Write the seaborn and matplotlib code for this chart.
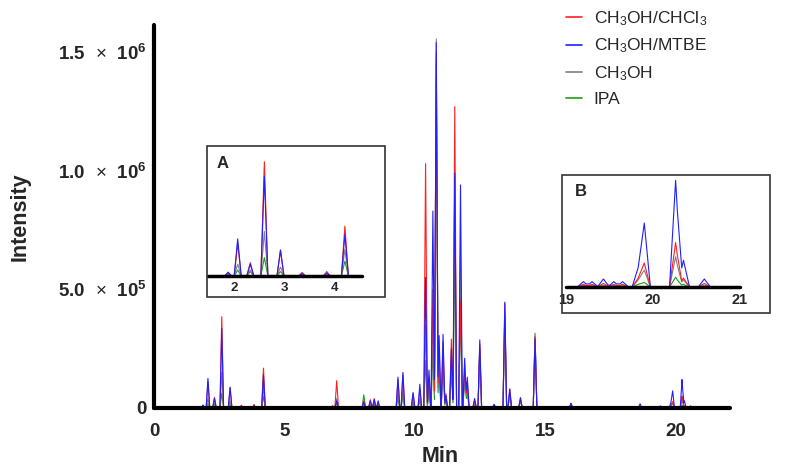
import numpy as np
import pandas as pd
import matplotlib
matplotlib.use("Agg")
import matplotlib.pyplot as plt
import seaborn as sns
from matplotlib.patches import Rectangle
from matplotlib.lines import Line2D

# ---------------- data ----------------
# retention times of the peaks (min)
rt = [1.88, 2.07, 2.32, 2.60, 2.92, 3.35, 3.84, 4.20,
      6.85, 7.01, 8.05, 8.30, 8.45, 8.60,
      9.36, 9.55, 9.94, 10.20,
      10.42, 10.55, 10.70, 10.83, 10.94, 11.09, 11.20, 11.41, 11.54, 11.76, 11.92, 12.02,
      12.30, 12.50, 13.05, 13.46, 13.65, 14.06, 14.62, 16.00, 18.65,
      19.20, 19.30, 19.43, 19.55, 19.65,
      19.83, 19.90, 20.26, 20.35, 20.59]

# peak heights (x 1000 counts) for each extraction solvent
h_chcl3 = [10, 110, 45, 385, 85, 12, 15, 168,
           10, 115, 30, 35, 40, 20,
           120, 140, 60, 80,
           1030, 120, 500, 1500, 250, 280, 60, 290, 1270, 450, 180, 110,
           30, 270, 15, 440, 80, 40, 300, 20, 8,
           3, 3, 4, 3, 3,
           10, 27, 50, 10, 4]
h_mtbe = [13, 125, 40, 335, 88, 8, 10, 140,
          8, 30, 25, 30, 35, 30,
          130, 150, 65, 100,
          550, 160, 830, 1540, 305, 310, 50, 250, 990, 940, 210, 130,
          40, 287, 15, 446, 80, 44, 290, 20, 18,
          6, 6, 9, 6, 6,
          22, 72, 120, 30, 9]
h_meoh = [6, 40, 20, 150, 30, 6, 5, 90,
          5, 40, 20, 15, 20, 10,
          60, 70, 30, 40,
          350, 80, 400, 1555, 200, 220, 40, 200, 980, 650, 150, 90,
          20, 250, 8, 400, 60, 30, 300, 10, 5,
          2, 2, 2, 2, 2,
          8, 19, 34, 8, 2]
h_ipa = [4, 20, 15, 62, 15, 4, 4, 50,
         3, 20, 55, 15, 15, 10,
         40, 50, 20, 30,
         200, 60, 250, 1450, 150, 180, 30, 150, 700, 420, 120, 70,
         15, 240, 6, 380, 60, 30, 315, 10, 4,
         1, 1, 1, 1, 1,
         3, 5, 11, 3, 1]

series_names = ["CH$_3$OH/CHCl$_3$", "CH$_3$OH/MTBE", "CH$_3$OH", "IPA"]
series_heights = [h_chcl3, h_mtbe, h_meoh, h_ipa]
series_colors = ["#ff1f1f", "#2020ff", "#808080", "#1a9e1a"]
run_start, run_end = 1.45, 21.2

x_ticks = [0, 5, 10, 15, 20]
y_ticks = [0, 5e5, 1e6, 1.5e6]
y_ticklabels = ["0",
                r"5.0 $\,\times\,$ 10$^{\mathbf{5}}$",
                r"1.0 $\,\times\,$ 10$^{\mathbf{6}}$",
                r"1.5 $\,\times\,$ 10$^{\mathbf{6}}$"]

# ---------------- style ----------------
sns.set_style("white")
plt.rcParams["font.family"] = ["Liberation Sans", "DejaVu Sans"]
plt.rcParams["mathtext.fontset"] = "custom"
plt.rcParams["mathtext.rm"] = "Liberation Sans"
plt.rcParams["mathtext.it"] = "Liberation Sans:italic"
plt.rcParams["mathtext.bf"] = "Liberation Sans:bold"

HALF_W = 0.07  # half base-width of a peak (min)


def trace(heights):
    r = np.asarray(rt, float)
    h = np.asarray(heights, float) * 1e3
    x = np.unique(np.concatenate([r - HALF_W, r, r + HALF_W, [run_start, run_end]]))
    y = np.zeros_like(x)
    for ri, hi in zip(r, h):
        y += hi * np.clip(1 - np.abs(x - ri) / HALF_W, 0, None)
    return pd.DataFrame({"t": x, "I": y})


traces = [trace(h) for h in series_heights]
draw_order = [3, 2, 0, 1]  # IPA, CH3OH, CHCl3, MTBE (blue on top)

fig = plt.figure(figsize=(7.9, 4.75), dpi=100)
W, H = 790, 475


def px_axes(left, right, bottom, top):
    return [left / W, (H - bottom) / H, (right - left) / W, (bottom - top) / H]


def draw_traces(ax, lw):
    for i in draw_order:
        sns.lineplot(data=traces[i], x="t", y="I", color=series_colors[i], lw=lw,
                     ax=ax, sort=False, estimator=None, legend=False)
    ax.set_xlabel("")
    ax.set_ylabel("")


# ---------------- main axes ----------------
ax = fig.add_axes(px_axes(154, 730, 408, 25))
draw_traces(ax, 0.8)
ax.set_xlim(0, 22.1)
ax.set_ylim(0, 1.614e6)
for s in ["top", "right"]:
    ax.spines[s].set_visible(False)
for s in ["left", "bottom"]:
    ax.spines[s].set_linewidth(3)
    ax.spines[s].set_color("black")
    ax.spines[s].set_capstyle("round")
    ax.spines[s].set_zorder(5)
ax.set_xticks(x_ticks)
ax.set_xticklabels([str(v) for v in x_ticks])
ax.set_yticks(y_ticks)
ax.set_yticklabels(y_ticklabels)
ax.tick_params(axis="both", direction="out", width=3, length=3, labelsize=13.5, color="black")
ax.tick_params(axis="x", pad=8)
ax.tick_params(axis="y", pad=2)
for lab in ax.get_xticklabels() + ax.get_yticklabels():
    lab.set_fontweight("bold")
ax.set_ylabel("Intensity", fontsize=15.5, fontweight="bold")
ax.set_xlabel("Min", fontsize=15.5, fontweight="bold")
ax.yaxis.set_label_coords((31 - 154) / 576, 0.5)
ax.xaxis.set_label_coords((440 - 154) / 576, (408 - 446) / 383)

# legend
handles = [Line2D([0], [0], color=c, lw=1.2) for c in series_colors]
fig.legend(handles, series_names, loc="upper left", bbox_to_anchor=(566 / W, 1 - 9 / H),
           frameon=False, borderpad=0, borderaxespad=0, handlelength=0.95,
           handletextpad=0.65, labelspacing=0.52, fontsize=12.5)


# ---------------- insets ----------------
def inset(pos, xlim, ylim, ticks, box, letter, letter_xy, fs):
    a = fig.add_axes(pos)
    draw_traces(a, 0.8)
    a.set_xlim(*xlim)
    a.set_ylim(*ylim)
    a.patch.set_alpha(0)
    for s in ["top", "right", "left"]:
        a.spines[s].set_visible(False)
    a.spines["bottom"].set_linewidth(2.5)
    a.spines["bottom"].set_color("black")
    a.spines["bottom"].set_capstyle("round")
    a.spines["bottom"].set_zorder(5)
    a.set_yticks([])
    a.set_xticks(ticks)
    a.set_xticklabels([str(t) for t in ticks])
    a.tick_params(axis="x", direction="out", width=2.5, length=2.5, labelsize=fs, pad=2)
    for lab in a.get_xticklabels():
        lab.set_fontweight("bold")
    bl, br, bb, bt = box
    fig.add_artist(Rectangle((bl / W, (H - bb) / H), (br - bl) / W, (bb - bt) / H,
                             transform=fig.transFigure, fill=False, lw=1.2, ec="#333333"))
    fig.text(letter_xy[0] / W, 1 - letter_xy[1] / H, letter, ha="center", va="center",
             fontsize=12, fontweight="bold")
    return a


inset(px_axes(208, 362, 276, 146), (1.48, 4.54), (0, 4.38e5), [2, 3, 4],
      (207, 385, 297, 146), "A", (223, 164), 9.5)
inset(px_axes(566, 740, 287, 175), (19, 21), (0, 1.26e5), [19, 20, 21],
      (562, 770, 313, 175), "B", (581, 191), 10.5)

fig.savefig("out.png", dpi=100)
